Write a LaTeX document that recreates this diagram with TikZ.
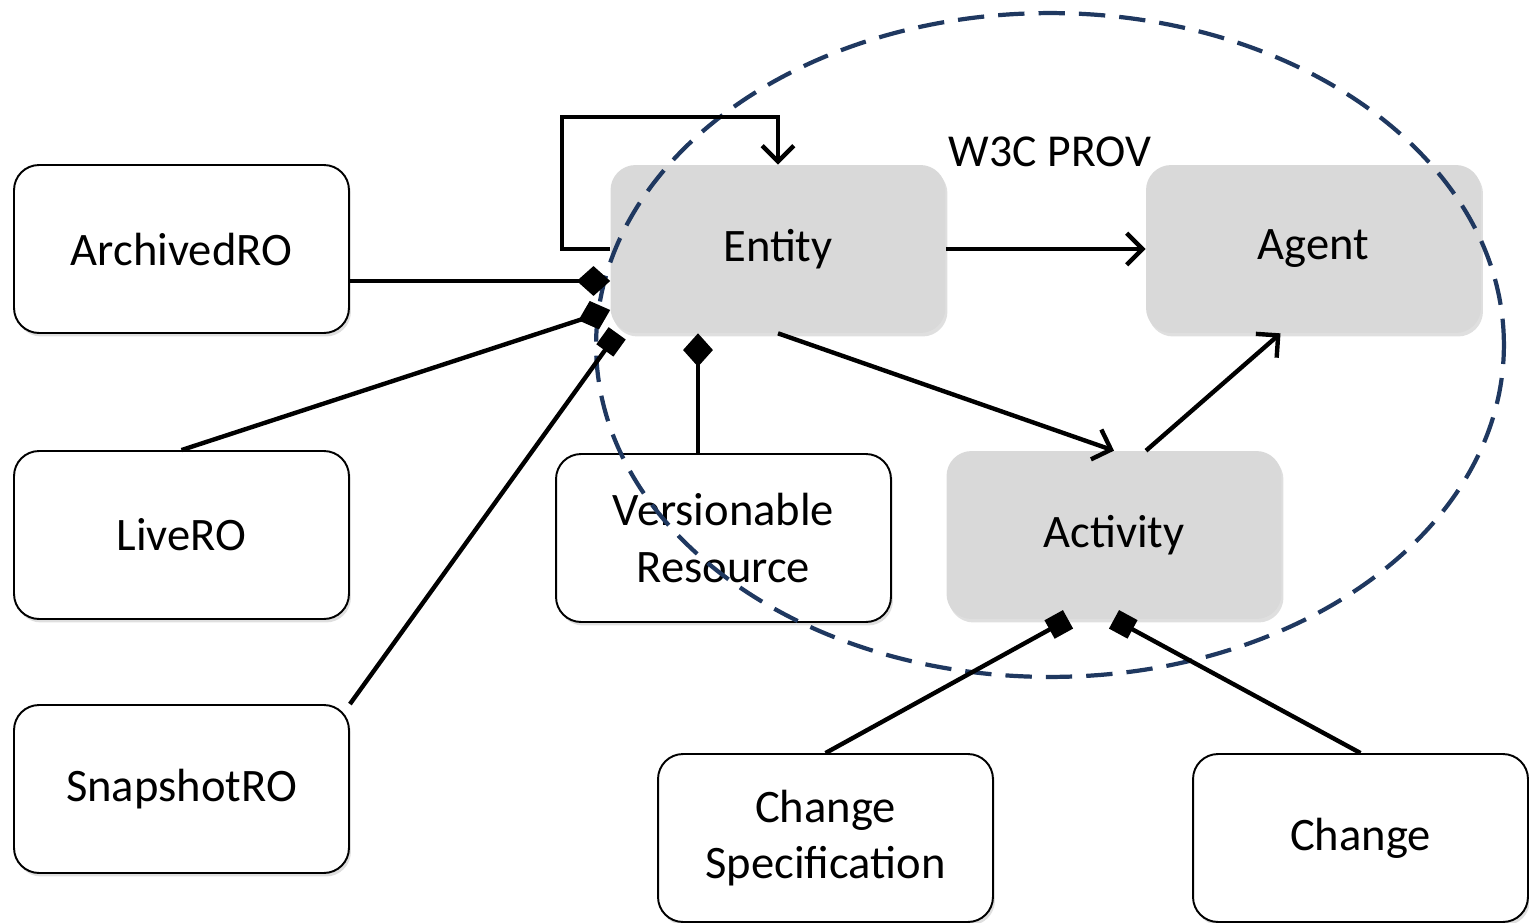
\documentclass[tikz,border=0pt]{standalone}
\usepackage{fontspec}
\setmainfont{Carlito}
\usepackage{tikz}
\usetikzlibrary{shadows,arrows.meta}

\begin{document}
\begin{tikzpicture}[x=0.02cm, y=-0.02cm]

	\tikzstyle{ro_box} = [draw=black, line width=1.1pt, fill=white, rounded corners=0.5cm, minimum width=6.7cm, minimum height=3.36cm, align=center, font=\fontsize{26.5}{32}\selectfont, drop shadow={shadow xshift=0.04cm, shadow yshift=-0.07cm, opacity=0.25}]
	\tikzstyle{prov_box} = [fill=gray!30, rounded corners=0.5cm, minimum width=6.7cm, minimum height=3.36cm, align=center, font=\fontsize{26.5}{32}\selectfont, drop shadow={shadow xshift=0.04cm, shadow yshift=-0.07cm, opacity=0.25}]
	\tikzstyle{edge} = [line width=2.5pt]
	\tikzstyle{to_arrow} = [edge, -{Straight Barb[length=9pt, width=18pt, line width=2.5pt]}]
	\tikzstyle{has_diamond} = [edge, -{Diamond[length=19pt, width=17pt]}]
	\tikzstyle{has_square} = [edge, -{Square[length=12pt, width=12pt]}]

	\useasboundingbox (0,0) rectangle (1529,923);
%------------------------------------------------------------
	\node[ro_box] (archived) at (181.5,249) {ArchivedRO};
	\node[ro_box] (live) at (181.5,535) {LiveRO};
	\node[ro_box] (snapshot) at (181.5,789) {SnapshotRO};
%------------------------------------------------------------
	\node[prov_box] (entity) at (778,249) {Entity};
	\node[prov_box] (agent) at (1313.5,249) {Agent};
	\node[prov_box] (activity) at (1114,535) {Activity};
	\node[ro_box] (versionable) at (723.5,538) {Versionable\\Resource};
%------------------------------------------------------------
	\node[ro_box] (changespec) at (825.5,838) {Change\\Specification};
	\node[ro_box] (change) at (1360.5,838) {Change};
%------------------------------------------------------------
	\draw[dashed, dash pattern=on 15pt off 8pt, line width=2.4pt, color={rgb,255:red,31;green,56;blue,96}] (1050,345) ellipse [x radius=9.08cm, y radius=6.64cm];
	\node[font=\fontsize{26}{30}\selectfont] (prov) at (1050,152) {W3C PROV};
%------------------------------------------------------------
	\draw[to_arrow] (entity.west) -- ++(-0.96cm,0) -- ++(0,2.64cm) -| (entity.north);
	\path[to_arrow] (entity.east) edge (agent.west);
	\path[to_arrow] (entity.south) edge (activity.north);
	\path[to_arrow] ([xshift=0.64cm]activity.north) edge ([xshift=-0.66cm]agent.south);

	\path[has_diamond] ([yshift=-0.64cm]archived.east) edge ([yshift=-0.64cm]entity.west);
	\path[has_diamond] (live.north) edge ([yshift=-1.22cm]entity.west);
	\path[has_square] (snapshot.north east) edge ([xshift=0.14cm]entity.south west);
	\path[has_diamond] ([xshift=-0.51cm]versionable.north) edge ([xshift=-0.51cm]versionable.north |- entity.south);

	\path[has_square] (changespec.north) edge ([xshift=-0.92cm]activity.south);
	\path[has_square] (change.north) edge (activity.south);

\end{tikzpicture}
\end{document}
